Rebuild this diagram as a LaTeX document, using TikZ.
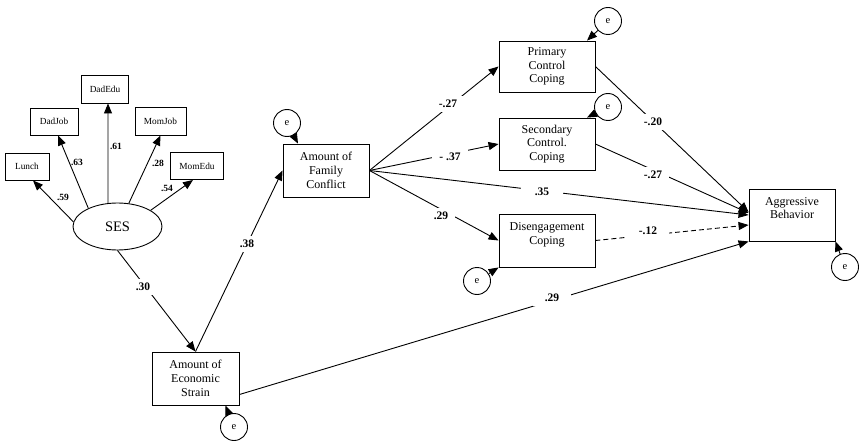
\documentclass[tikz,border=0pt]{standalone}
\usepackage{fontspec}
\setmainfont{Liberation Serif}
\usetikzlibrary{arrows.meta,shapes.geometric}
\begin{document}
\begin{tikzpicture}[x=1pt,y=-1pt,
  box/.style={draw, line width=0.9pt, align=center, inner sep=0pt, font=\fontsize{12}{13.8}\selectfont},
  sbox/.style={draw, line width=0.9pt, inner sep=0pt, minimum height=27pt, font=\fontsize{9.3}{10}\selectfont},
  err/.style={draw, circle, line width=0.9pt, minimum size=27pt, inner sep=0pt, font=\fontsize{10.5}{12}\selectfont},
  arr/.style={line width=0.9pt, -{Triangle[length=10pt,width=8pt]}},
  lab/.style={fill=white, font=\bfseries\fontsize{11.5}{12}\selectfont, inner xsep=7pt, inner ysep=4pt},
  slab/.style={font=\bfseries\fontsize{9.5}{10}\selectfont, inner sep=1pt}]
\useasboundingbox[fill=white] (0,0) rectangle (859,441);

% indicators
\node[sbox, minimum width=44pt] (lunch) at (27,166.5) {Lunch};
\node[sbox, minimum width=48pt] (dadjob) at (54,121.5) {DadJob};
\node[sbox, minimum width=47pt, minimum height=28pt] (dadedu) at (105,89) {DadEdu};
\node[sbox, minimum width=51pt, minimum height=28pt] (momjob) at (160.5,121) {MomJob};
\node[sbox, minimum width=53pt] (momedu) at (197,166) {MomEdu};
\node[draw, ellipse, line width=0.9pt, minimum width=89pt, minimum height=47pt, inner sep=0pt, font=\fontsize{14.5}{16}\selectfont] (ses) at (117.5,226.5) {SES};

% main boxes
\node[box, minimum width=86pt, minimum height=53pt] (fc) at (326,170.5) {Amount of\\Family\\Conflict};
\node[box, minimum width=87pt, minimum height=53pt] (econ) at (195.5,378.5) {Amount of\\Economic\\Strain};
\node[box, minimum width=96pt, minimum height=51pt] (pcc) at (547,66.5) {Primary\\Control\\Coping};
\node[box, minimum width=96pt, minimum height=52pt] (scc) at (547,144) {Secondary\\Control.\\Coping};
\node[box, minimum width=96pt, minimum height=53pt] (dis) at (547,240.5) {Disengagement\\Coping\\\mbox{}};
\node[box, minimum width=86pt, minimum height=52pt] (agg) at (792,215) {Aggressive\\Behavior\\\mbox{}};

% error terms
\node[err] (efc) at (287,123) {e};
\node[err] (eecon) at (234,427) {e};
\node[err] (epcc) at (608,21) {e};
\node[err] (escc) at (608,107) {e};
\node[err] (edis) at (477,281) {e};
\node[err] (eagg) at (845,267) {e};

% connectors
\draw[arr] (ses.174) -- ([xshift=6pt]lunch.south);
\draw[arr] (ses.148) -- ([xshift=4pt]dadjob.south);
\draw[arr] (ses.112) -- ([xshift=3pt]dadedu.south);
\draw[arr] (ses.64) -- (momjob.south);
\draw[arr] (ses.26) -- ([xshift=-4pt]momedu.south);

\draw[arr] (ses.south) -- (econ.north);
\draw[arr] (econ.north) -- (fc.west);
\draw[arr] (efc) -- ([xshift=-28pt]fc.north);
\draw[arr] (eecon) -- ([xshift=30pt]econ.south);

\draw[arr] (fc.east) -- (pcc.west);
\draw[arr] (fc.east) -- (scc.west);
\draw[arr] (fc.east) -- (agg.west);
\draw[arr] (fc.east) -- (dis.west);
\draw[arr] (epcc) -- ([xshift=40pt]pcc.north);
\draw[arr] (escc) -- ([xshift=40pt]scc.north);
\draw[arr] (edis) -- (dis.south west);

\draw[arr] (pcc.east) -- ([yshift=3pt]agg.west);
\draw[arr] (scc.east) -- ([yshift=2pt]agg.west);
\draw[arr, dash pattern=on 5pt off 3pt] (dis.east) -- ([yshift=-10pt]agg.west);
\draw[arr] ([yshift=-16pt]econ.east) -- (agg.south west);
\draw[arr] (eagg) -- (agg.south east);

% labels
\node[slab] (l59) at (63,197) {.59};
\node[slab] (l63) at (77,162) {.63};
\node[slab] (l61) at (116,146) {.61};
\node[slab] (l28) at (158,163) {.28};
\node[slab] (l54) at (167,188) {.54};

\node[lab] (l30) at (143,287) {.30};
\node[lab] (l38) at (247,244) {.38};
\node[lab] (l27a) at (448,104) {-.27};
\node[lab] (l37) at (450,157) {- .37};
\node[lab, inner xsep=14pt] (l35) at (542,192) {.35};
\node[lab] (l29a) at (441,216) {.29};
\node[lab] (l20) at (653,122) {-.20};
\node[lab] (l27b) at (653,175) {-.27};
\node[lab, inner xsep=12pt] (l12) at (648,231) {-.12};
\node[lab, inner xsep=12pt] (l29b) at (552,298) {.29};
\end{tikzpicture}
\end{document}
